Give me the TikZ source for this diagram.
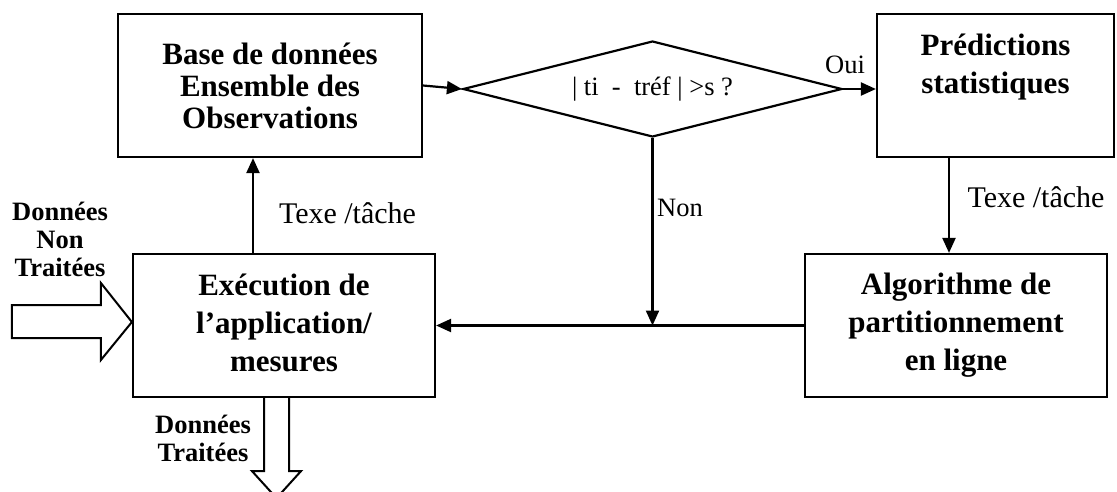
\documentclass[tikz,border=0pt]{standalone}
\usepackage{fontspec}
\setmainfont{Liberation Serif}
\usetikzlibrary{shapes.geometric,arrows.meta}

\tikzset{
  box/.style={draw, line width=2.2pt, minimum width=302pt, minimum height=143pt,
    inner sep=0pt, align=center, font=\bfseries\fontsize{31}{38}\selectfont},
  decision/.style={draw, diamond, line width=2.2pt, shape aspect=4,
    minimum width=379pt, minimum height=96pt, inner sep=0pt,
    font=\fontsize{26.5}{28}\selectfont},
  lbl/.style={font=\fontsize{26.5}{28}\selectfont, inner sep=0pt},
  ratelbl/.style={font=\fontsize{30}{32}\selectfont, inner sep=0pt},
  datalbl/.style={font=\bfseries\fontsize{26.5}{28}\selectfont, align=center, inner sep=0pt},
  arr/.style={line width=2.2pt, -{Triangle[length=15pt,width=13pt]}},
  hollow/.style={draw, line width=2pt, line join=miter},
}

\begin{document}
\begin{tikzpicture}[x=1pt,y=-1pt]
      \useasboundingbox (0,0) rectangle (1117,491);
      \draw
        (270,85.5) node[box, minimum width=304pt, font=\bfseries\fontsize{31}{32}\selectfont] (base) {Base de données\\Ensemble des\\Observations}
        (652.5,89) node[decision] (test) {| ti\ \ -\ \ tréf | >s ?}
        (995.5,85.5) node[box, minimum width=237pt] (pred) {Prédictions\\statistiques\\[6pt]\mbox{}}
        (284,325.5) node[box] (exec) {Exécution de\\l’application/\\mesures\rule[-6pt]{0pt}{6pt}}
        (956,325.5) node[box] (algo) {Algorithme de\\partitionnement\\en ligne};
      \coordinate (join) at (test.south |- algo.west);
      \coordinate (up) at ([xshift=-31pt]exec.north);
      \coordinate (down) at ([xshift=-7pt]algo.north);
      \begin{scope}[arr]
        \draw (base.east) to (test.west);
        \draw (test.east) to (test.east -| pred.west);
        \draw (test.south) to (join);
        \draw (down |- pred.south) to (down);
        \draw (algo.west) to (exec.east);
        \draw (up) to (up |- base.south);
      \end{scope}
      % labels
      \node[lbl] (oui) at (845,65) {Oui};
      \node[lbl] (non) at (680,208) {Non};
      \node[ratelbl] (rate1) at (347.5,213) {Texe /tâche};
      \node[ratelbl] (rate2) at (1036,197) {Texe /tâche};
      \node[datalbl] (raw) at (60,239) {Données\\Non\\Traitées};
      \node[datalbl] (done) at (203,438) {Données\\Traitées};
      % big arrows in and out
      \draw[hollow] ([yshift=3.5pt]exec.west) -- ++(-31,-39) -- ++(0,22) -- ++(-89,0)
        -- ++(0,33) -- ++(89,0) -- ++(0,22) -- cycle;
      \draw[hollow] ([xshift=-20pt]exec.south) -- ++(0,73) -- ++(-12,0) -- ++(24.5,27)
        -- ++(24.5,-27) -- ++(-12,0) -- ++(0,-73);
    \end{tikzpicture}
\end{document}
